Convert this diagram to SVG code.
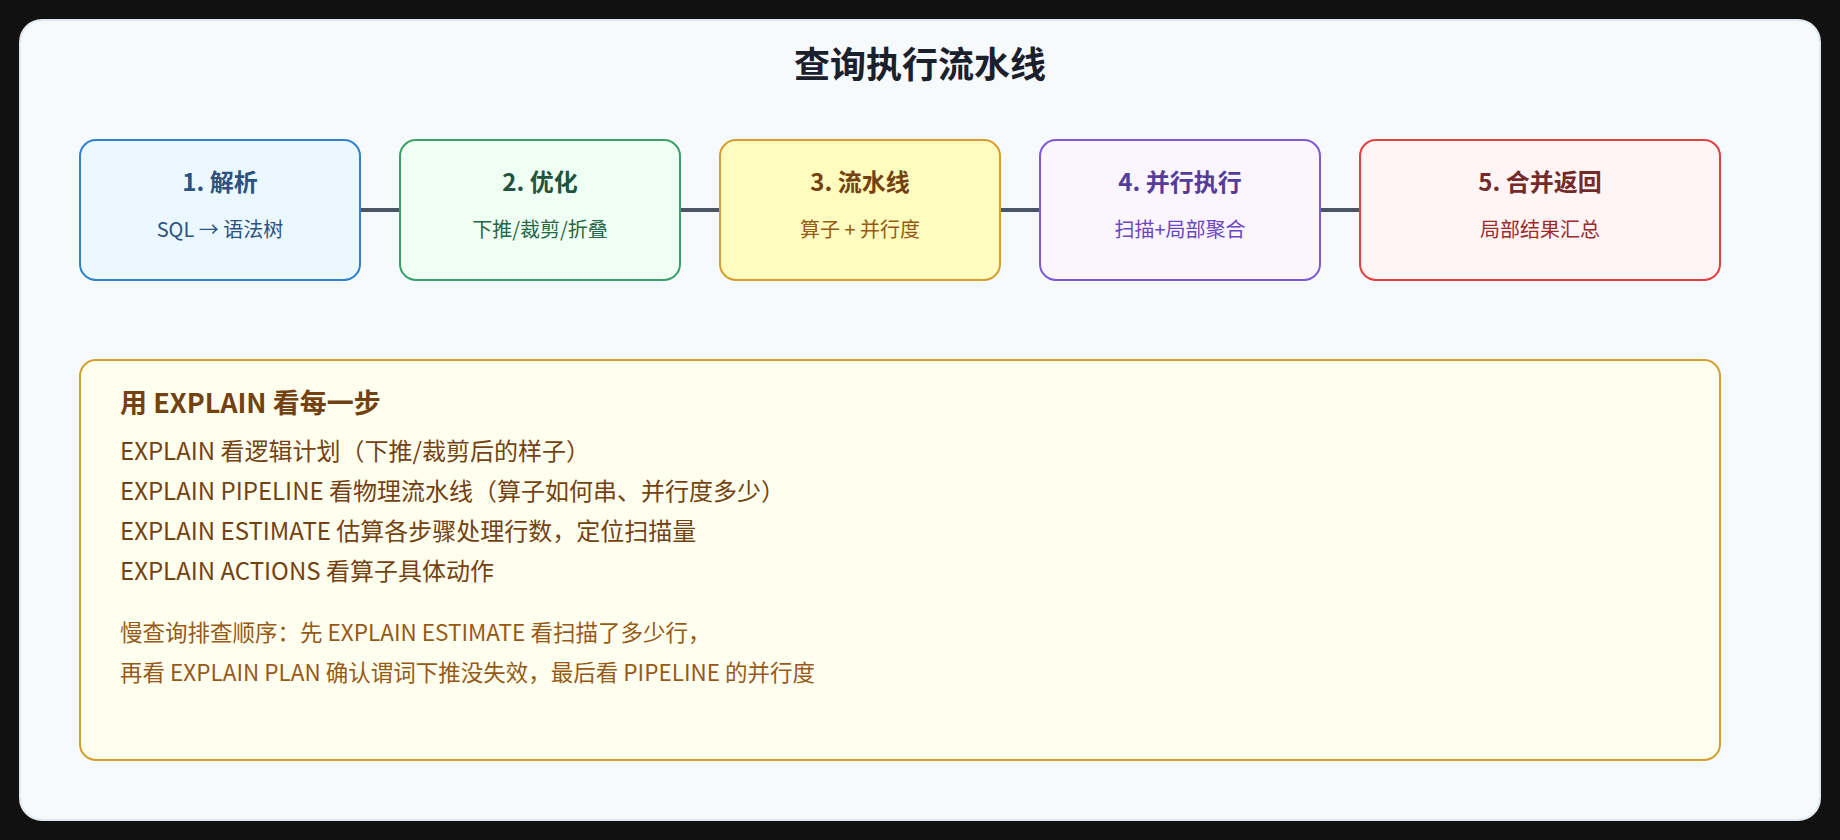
<svg xmlns="http://www.w3.org/2000/svg" width="1840" height="840" viewBox="0 0 1840 840">
<style>
text{font-family:"Noto Sans CJK SC","Noto Sans",sans-serif}
.ttl{font-size:24px;font-weight:700;text-anchor:middle}
.sub{font-size:20px;text-anchor:middle}
.box{stroke-width:2}
.conn{stroke:#4a5568;stroke-width:4}
.ln{font-size:24px;fill:#744210}
.nt{font-size:22.5px;fill:#975a16}
</style>
<rect x="0" y="0" width="1840" height="840" fill="#111111"/>
<rect id="card" x="20" y="20" width="1800" height="800" rx="22" fill="#f7fafc" stroke="#e2e8f0" stroke-width="2"/>
<text x="920" y="78" font-size="36" font-weight="700" fill="#1a202c" text-anchor="middle">查询执行流水线</text>
<g id="connectors">
<line class="conn" x1="360" y1="210" x2="400" y2="210"/>
<line class="conn" x1="680" y1="210" x2="720" y2="210"/>
<line class="conn" x1="1000" y1="210" x2="1040" y2="210"/>
<line class="conn" x1="1320" y1="210" x2="1360" y2="210"/>
</g>
<g id="n1">
<rect class="box" x="80" y="140" width="280" height="140" rx="16" fill="#ebf8ff" stroke="#3182ce"/>
<text class="ttl" x="220" y="191" fill="#2c5282">1. 解析</text>
<text class="sub" x="220" y="237" fill="#2c5282">SQL → 语法树</text>
</g>
<g id="n2">
<rect class="box" x="400" y="140" width="280" height="140" rx="16" fill="#f0fff4" stroke="#38a169"/>
<text class="ttl" x="540" y="191" fill="#22543d">2. 优化</text>
<text class="sub" x="540" y="237" fill="#276749">下推/裁剪/折叠</text>
</g>
<g id="n3">
<rect class="box" x="720" y="140" width="280" height="140" rx="16" fill="#fefcbf" stroke="#d69e2e"/>
<text class="ttl" x="860" y="191" fill="#744210">3. 流水线</text>
<text class="sub" x="860" y="237" fill="#975a16">算子 + 并行度</text>
</g>
<g id="n4">
<rect class="box" x="1040" y="140" width="280" height="140" rx="16" fill="#faf5ff" stroke="#805ad5"/>
<text class="ttl" x="1180" y="191" fill="#553c9a">4. 并行执行</text>
<text class="sub" x="1180" y="237" fill="#6b46c1">扫描+局部聚合</text>
</g>
<g id="n5">
<rect class="box" x="1360" y="140" width="360" height="140" rx="16" fill="#fff5f5" stroke="#e53e3e"/>
<text class="ttl" x="1540" y="191" fill="#742a2a">5. 合并返回</text>
<text class="sub" x="1540" y="237" fill="#9b2c2c">局部结果汇总</text>
</g>
<g id="explain">
<rect class="box" x="80" y="360" width="1640" height="400" rx="16" fill="#fffff0" stroke="#d69e2e"/>
<text x="120" y="413" font-size="27" font-weight="700" fill="#744210">用 EXPLAIN 看每一步</text>
<text class="ln" x="120" y="460">EXPLAIN 看逻辑计划（下推/裁剪后的样子）</text>
<text class="ln" x="120" y="500">EXPLAIN PIPELINE 看物理流水线（算子如何串、并行度多少）</text>
<text class="ln" x="120" y="540">EXPLAIN ESTIMATE 估算各步骤处理行数，定位扫描量</text>
<text class="ln" x="120" y="580">EXPLAIN ACTIONS 看算子具体动作</text>
<text class="nt" x="120" y="641">慢查询排查顺序：先 EXPLAIN ESTIMATE 看扫描了多少行，</text>
<text class="nt" x="120" y="681">再看 EXPLAIN PLAN 确认谓词下推没失效，最后看 PIPELINE 的并行度</text>
</g>
</svg>
